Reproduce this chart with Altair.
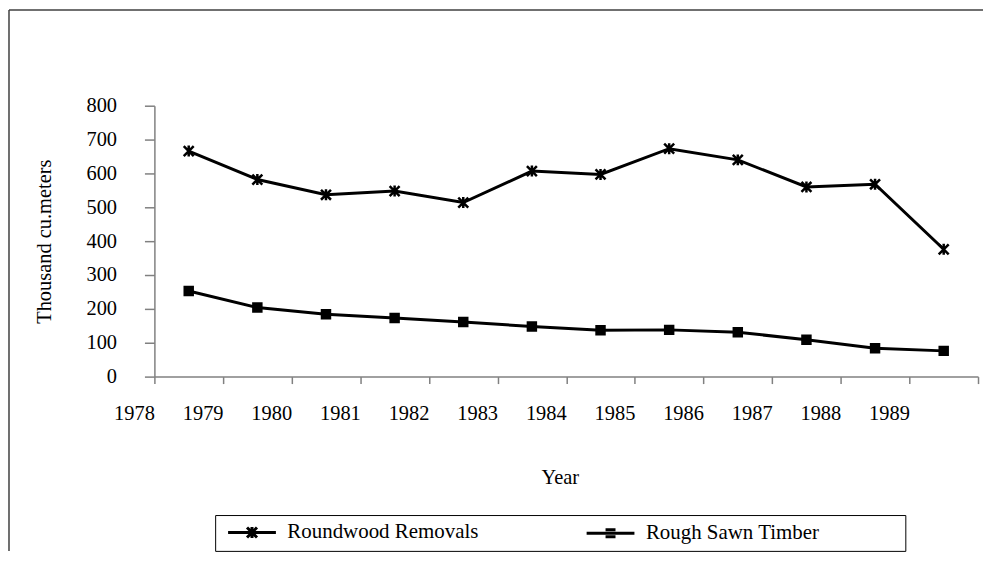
import altair as alt
import pandas as pd

years = list(range(1978, 1990))
roundwood = [666, 582, 537, 548, 514, 607, 597, 673, 640, 560, 568, 376]
sawn = [253, 204, 184, 173, 161, 148, 137, 138, 131, 109, 84, 76]
series = ["Roundwood Removals", "Rough Sawn Timber"]
tick_years = list(range(1978, 1991))
y_ticks = list(range(0, 801, 100))

rows = []
for s, vals in zip(series, [roundwood, sawn]):
    for yr, v in zip(years, vals):
        rows.append({"Year": yr, "Series": s, "Value": v})
df = pd.DataFrame(rows)

FONT = "Liberation Serif"
W, H = 827, 272
PAD = {"left": 147, "top": 97, "right": 5, "bottom": 175}

marker_paths = [
    "M-1,-1L1,1M-1,1L1,-1M0,-1.1L0,1.1",
    "M-0.8,-0.8L0.8,-0.8L0.8,0.8L-0.8,0.8Z",
]
legend_paths = [
    "M-4.8,0L4.8,0M-1,-1L1,1M-1,1L1,-1M0,-1.1L0,1.1",
    "M-4.8,0L4.8,0M-1,-0.7L1,-0.7M-1,0.7L1,0.7",
]

base = alt.Chart(df).transform_calculate(xpos="datum.Year + 0.5")

x_enc = alt.X(
    "xpos:Q",
    scale=alt.Scale(domain=[1978, 1990], nice=False, zero=False),
    axis=alt.Axis(
        values=tick_years, format="d",
        labelExpr="datum.value >= 1990 ? '' : datum.label",
        labelAlign="right", labelBaseline="top", labelPadding=20,
        tickSize=7, labelFlush=False, labelOverlap=False,
        titleX=407, titleY=101, titleBaseline="middle", titleAlign="center",
    ),
    title="Year",
)
y_enc = alt.Y(
    "Value:Q",
    scale=alt.Scale(domain=[0, 800], nice=False),
    axis=alt.Axis(
        values=y_ticks, tickSize=10, labelPadding=28, labelFlush=False,
        titleX=-110, titleY=136, titleAngle=270, titleBaseline="middle",
        titleAlign="center",
    ),
    title="Thousand cu.meters",
)

lines = base.mark_line(color="black", strokeWidth=3).encode(
    x=x_enc, y=y_enc, detail="Series:N"
)
points = base.mark_point(
    filled=True, fill="black", stroke="black", strokeWidth=2.5, size=100, opacity=1
).encode(
    x=x_enc, y=y_enc,
    shape=alt.Shape("Series:N", scale=alt.Scale(domain=series, range=marker_paths), legend=None),
)
legend_layer = base.transform_filter("false").mark_point(
    filled=False, color="black", strokeWidth=3, opacity=1
).encode(
    x=x_enc, y=y_enc,
    shape=alt.Shape(
        "Series:N",
        scale=alt.Scale(domain=series, range=legend_paths),
        legend=alt.Legend(
            title=".", titleColor="white", titleOrient="right", titlePadding=76,
            titleFontSize=10,
            orient="none", legendX=61, legendY=411, direction="horizontal",
            symbolSize=100, symbolStrokeWidth=3,
            symbolStrokeColor="black", labelFont=FONT, labelFontSize=21,
            labelColor="black", labelOffset=25, columnPadding=102, padding=7,
            strokeColor="black", symbolOffset=19.5, labelLimit=600,
        ),
    ),
)

frame = alt.Chart(alt.Data(values=[{}]))
frame_top = frame.mark_rule(color="#404040", strokeWidth=1.5).encode(
    x=alt.value(-146), x2=alt.value(840), y=alt.value(-96)
)
frame_left = frame.mark_rule(color="#404040", strokeWidth=1.5).encode(
    x=alt.value(-146), y=alt.value(-96), y2=alt.value(H + PAD["bottom"])
)

chart = (
    alt.layer(frame_top, frame_left, lines, points, legend_layer)
    .resolve_scale(shape="independent")
    .properties(width=W, height=H, autosize="none", padding=PAD)
    .configure_view(stroke=None)
    .configure_axis(
        labelFont=FONT, titleFont=FONT, labelFontSize=20.5, titleFontSize=20.5,
        labelColor="black", titleColor="black", titleFontWeight="normal",
        grid=False, domainColor="#808080", tickColor="#808080", domainWidth=1.5,
        tickWidth=1.5,
    )
)

chart.save("out.html", embed_options={"renderer": "svg", "actions": False})
